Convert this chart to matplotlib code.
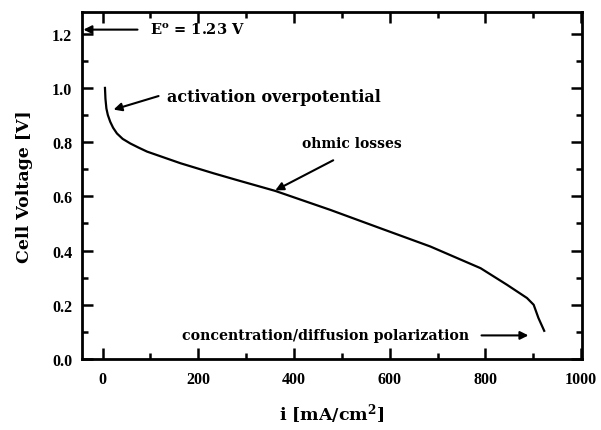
import numpy as np
import matplotlib.pyplot as plt
from matplotlib.ticker import MultipleLocator

plt.rcParams['font.family'] = ['Liberation Serif', 'DejaVu Serif']
plt.rcParams['font.weight'] = 'bold'
plt.rcParams['mathtext.fontset'] = 'custom'
plt.rcParams['mathtext.rm'] = 'DejaVu Serif:bold'
plt.rcParams['mathtext.it'] = 'DejaVu Serif:bold'
plt.rcParams['mathtext.bf'] = 'DejaVu Serif:bold'

# curva de polarizacion
corriente = [5, 6, 8, 11, 16, 22, 30, 42, 58, 75, 93, 163, 232, 281, 361, 476, 581, 685, 790, 845, 887, 901, 911, 923]
voltaje = [1.0, 0.96, 0.924, 0.90, 0.875, 0.853, 0.832, 0.812, 0.795, 0.78, 0.765, 0.722, 0.685, 0.660, 0.620, 0.550, 0.482, 0.415, 0.335, 0.274, 0.225, 0.2, 0.151, 0.104]

E0 = 1.23
x_ticks = [0, 200, 400, 600, 800, 1000]
y_ticks = [0.0, 0.2, 0.4, 0.6, 0.8, 1.0, 1.2]

fig = plt.figure(figsize=(6.01, 4.31), dpi=100)
ax = fig.add_axes([82/601, 1-360/431, 500/601, 347/431])

ax.plot(corriente, voltaje, color='black', lw=1.6)

ax.set_xlim(-43, 1002)
ax.set_ylim(0, 1.28)
ax.set_xticks(x_ticks)
ax.set_yticks(y_ticks)
ax.set_yticklabels(['%.1f' % v for v in y_ticks])
ax.xaxis.set_minor_locator(MultipleLocator(100))
ax.yaxis.set_minor_locator(MultipleLocator(0.1))
ax.tick_params(which='both', direction='in', top=True, right=True, width=1.8, labelsize=11.5)
ax.tick_params(axis='x', which='both', pad=9)
ax.tick_params(axis='y', which='both', pad=7)
ax.tick_params(which='major', length=8)
ax.tick_params(which='minor', length=4.5)
for s in ax.spines.values():
    s.set_linewidth(2)

ax.set_ylabel('Cell Voltage [V]', fontsize=12.5, fontweight='bold', family='DejaVu Serif')
ax.set_xlabel('i [mA/cm$^2$]', fontsize=12.5, fontweight='bold', family='DejaVu Serif')
ax.yaxis.set_label_coords(-0.098, 0.5)
ax.xaxis.set_label_coords(0.5, -0.12)

flecha = dict(arrowstyle='-|>', color='black', lw=1.5, mutation_scale=12, shrinkA=0, shrinkB=0)

# anotaciones
ax.text(100, 1.215, 'E$^o$ = %.2f V' % E0, ha='left', va='center',
        fontsize=10.5, family='DejaVu Serif', fontweight='bold')
ax.annotate('', xy=(-40, 1.215), xytext=(73, 1.215), arrowprops=flecha)

ax.text(135, 0.97, 'activation overpotential', ha='left', va='center',
        fontsize=11.5, family='DejaVu Serif', fontweight='bold')
ax.annotate('', xy=(23, 0.92), xytext=(117, 0.97), arrowprops=flecha)

ax.text(522, 0.795, 'ohmic losses', ha='center', va='center',
        fontsize=10, family='DejaVu Serif', fontweight='bold')
ax.annotate('', xy=(361, 0.622), xytext=(482, 0.733), arrowprops=flecha)

ax.text(165, 0.087, 'concentration/diffusion polarization', ha='left', va='center',
        fontsize=10.2, family='DejaVu Serif', fontweight='bold')
ax.annotate('', xy=(890, 0.087), xytext=(792, 0.087), arrowprops=flecha)

plt.savefig('out.png', dpi=100)
